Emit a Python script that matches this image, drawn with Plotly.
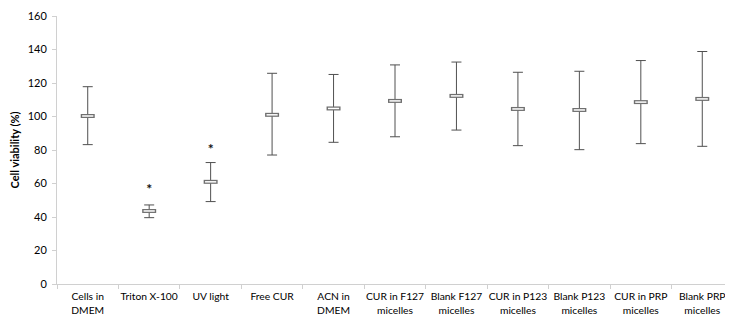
import plotly.graph_objects as go

categories = ["Cells in<br>DMEM", "Triton X-100", "UV light", "Free CUR", "ACN in<br>DMEM",
              "CUR in F127<br>micelles", "Blank F127<br>micelles", "CUR in P123<br>micelles",
              "Blank P123<br>micelles", "CUR in PRP<br>micelles", "Blank PRP<br>micelles"]
means = [100.3, 43.6, 61.0, 101.0, 104.8, 109.3, 112.3, 104.5, 103.9, 108.6, 110.5]
upper = [117.8, 47.2, 72.5, 125.8, 125.1, 130.8, 132.5, 126.4, 127.0, 133.4, 138.8]
lower = [83.2, 39.6, 49.2, 77.0, 84.6, 87.9, 91.9, 82.6, 80.2, 83.8, 82.2]
star_cats = ["Triton X-100", "UV light"]
star_y = [56, 80]

err_plus = [u - m for u, m in zip(upper, means)]
err_minus = [m - l for m, l in zip(means, lower)]

font_family = "Lato, 'Open Sans', sans-serif"

fig = go.Figure()
fig.add_trace(go.Scatter(
    x=categories, y=means, mode="markers",
    marker=dict(symbol="line-ew", size=10, color="#707070", line=dict(width=4, color="#707070")),
    error_y=dict(type="data", symmetric=False, array=err_plus, arrayminus=err_minus,
                 color="#505050", thickness=1, width=5),
    showlegend=False, hoverinfo="skip"))
fig.add_trace(go.Scatter(
    x=categories, y=means, mode="markers",
    marker=dict(symbol="line-ew", size=8, color="white", line=dict(width=1.5, color="white")),
    showlegend=False, hoverinfo="skip"))
fig.add_trace(go.Scatter(
    x=star_cats, y=star_y, mode="text", text=["<b>*</b>"] * len(star_cats),
    textfont=dict(size=14, color="#111111", family=font_family),
    showlegend=False, hoverinfo="skip"))

# page body has an 8px default margin; size and margins compensate for it
fig.update_layout(
    width=725, height=314,
    margin=dict(l=49, r=0, t=8, b=38),
    plot_bgcolor="white", paper_bgcolor="white",
    font=dict(family=font_family, size=10.5, color="#000000"),
)
fig.update_xaxes(
    type="category", categoryorder="array", categoryarray=categories,
    range=[-0.5, 10.5], showline=True, linecolor="#d0d0d0", linewidth=1,
    ticks="outside", tickson="boundaries", ticklen=4, tickcolor="#d0d0d0",
    showgrid=False, zeroline=False, tickangle=0, automargin=False,
    ticklabelstandoff=3,
    tickfont=dict(size=10.3, family=font_family),
)
fig.update_yaxes(
    range=[0, 160], dtick=20, showline=True, linecolor="#d0d0d0", linewidth=1,
    ticks="outside", ticklen=4, tickcolor="#d0d0d0", showgrid=False, zeroline=False,
    automargin=False, ticklabelstandoff=3,
    tickfont=dict(size=11, family=font_family),
    title=dict(text="<b>Cell viability (%)</b>", font=dict(size=11, family=font_family), standoff=6),
)

fig.write_html("out.html")
